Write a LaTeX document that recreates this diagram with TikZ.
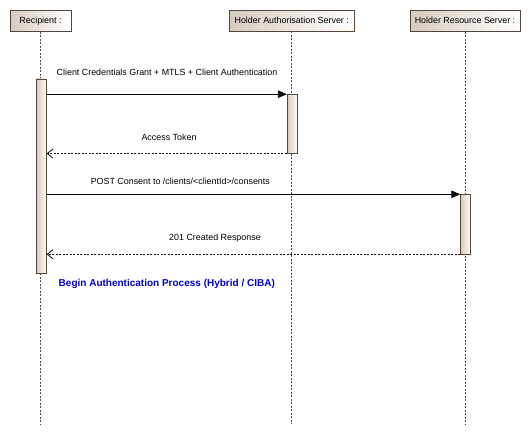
\documentclass[tikz,border=0pt]{standalone}
\usepackage{fontspec}
\setmainfont{Liberation Sans}
\usetikzlibrary{arrows.meta}
\definecolor{edge}{RGB}{85,70,60}
\definecolor{beige}{RGB}{214,204,190}
\definecolor{lblue}{RGB}{0,0,205}
\tikzset{
  hdr/.style={draw=edge, line width=0.8pt, left color=beige, right color=white, inner sep=0pt, font=\fontsize{8.9}{10}\selectfont},
  actbar/.style={draw=edge, line width=0.8pt, left color=beige, right color=white, inner sep=0pt, anchor=north},
  lifeline/.style={draw=edge, line width=0.8pt, dash pattern=on 2pt off 1.5pt},
  msg/.style={draw=black!85!edge, line width=0.8pt, -{Triangle[length=9pt,width=7.5pt]}},
  ret/.style={draw=black!85!edge, line width=0.8pt, dash pattern=on 2pt off 1.5pt, -{Straight Barb[length=5.5pt,width=9pt,line width=0.8pt]}},
  lbl/.style={inner sep=0pt, font=\fontsize{8.9}{10}\selectfont},
}
\begin{document}
\begin{tikzpicture}[x=1pt,y=-1pt]
\useasboundingbox[fill=white] (0,0) rectangle (531,434);
% headers
\node[hdr, minimum width=61pt, minimum height=21.5pt] (rec) at (40.5,20.75) {Recipient :};
\node[hdr, minimum width=124.5pt, minimum height=21pt] (auth) at (291.75,20.5) {Holder Authorisation Server :};
\node[hdr, minimum width=110pt, minimum height=21.5pt] (res) at (465,20.75) {Holder Resource Server :};
% lifeline ends
\coordinate (recEnd) at (40.5,424);
\coordinate (authEnd) at (291.75,424);
\coordinate (resEnd) at (465,424);
\draw[lifeline] (rec.south) -- (recEnd);
\draw[lifeline] (auth.south) -- (authEnd);
\draw[lifeline] (res.south) -- (resEnd);
% activation bars
\node[actbar, minimum width=9.8pt, minimum height=194.8pt] (recBar) at (41.4,78.5) {};
\node[actbar, minimum width=10pt, minimum height=58.5pt] (authBar) at (292.3,94.2) {};
\node[actbar, minimum width=9.6pt, minimum height=59.2pt] (resBar) at (465.5,194.3) {};
% messages
\draw[msg] (recBar.east |- authBar.north) -- (authBar.north west);
\draw[ret] (authBar.south west) -- (recBar.east |- authBar.south);
\draw[msg] (recBar.east |- resBar.north) -- (resBar.north west);
\draw[ret] (resBar.south west) -- (recBar.east |- resBar.south);
% labels
\node[lbl] (l1) at (167,72) {Client Credentials Grant + MTLS + Client Authentication};
\node[lbl] (l2) at (169,137.3) {Access Token};
\node[lbl] (l3) at (180.3,181) {POST Consent to /clients/<clientId>/consents};
\node[lbl] (l4) at (215,237.7) {201 Created Response};
\node[inner sep=0pt, font=\fontsize{10}{11}\selectfont\bfseries, text=lblue] (l5) at (166.8,284) {Begin Authentication Process (Hybrid / CIBA)};
\end{tikzpicture}
\end{document}
